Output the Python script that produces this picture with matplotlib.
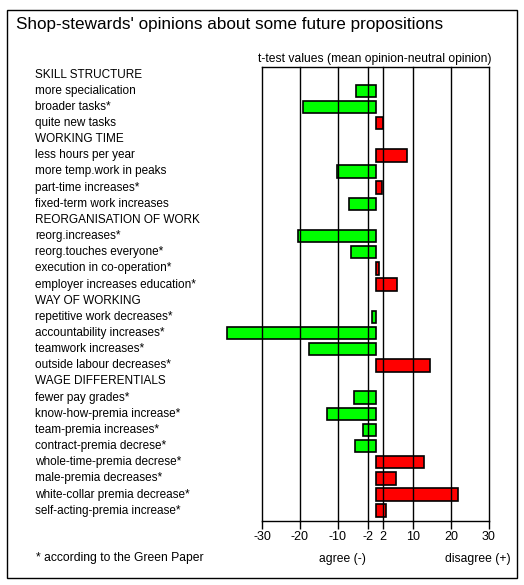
import matplotlib
matplotlib.use("Agg")
import matplotlib.pyplot as plt
import matplotlib.transforms as mtransforms
from matplotlib.patches import Rectangle

# rows from top to bottom; None marks a section heading (no bar)
labels = [
    "SKILL STRUCTURE",
    "more specialication",
    "broader tasks*",
    "quite new tasks",
    "WORKING TIME",
    "less hours per year",
    "more temp.work in peaks",
    "part-time increases*",
    "fixed-term work increases",
    "REORGANISATION OF WORK",
    "reorg.increases*",
    "reorg.touches everyone*",
    "execution in co-operation*",
    "employer increases education*",
    "WAY OF WORKING",
    "repetitive work decreases*",
    "accountability increases*",
    "teamwork increases*",
    "outside labour decreases*",
    "WAGE DIFFERENTIALS",
    "fewer pay grades*",
    "know-how-premia increase*",
    "team-premia increases*",
    "contract-premia decrese*",
    "whole-time-premia decrese*",
    "male-premia decreases*",
    "white-collar premia decrease*",
    "self-acting-premia increase*",
]
t_values = [
    None, -5.1, -19.2, 2.0,
    None, 8.4, -10.1, 1.8, -7.0,
    None, -20.4, -6.5, 0.8, 5.8,
    None, -0.9, -39.2, -17.6, 14.5,
    None, -5.7, -12.8, -3.3, -5.4, 12.9, 5.3, 21.9, 2.9,
]
tick_values = [-30, -20, -10, -2, 2, 10, 20, 30]
tick_labels = ["-30", "-20", "-10", "-2", "2", "10", "20", "30"]

FONT = "Liberation Sans"

fig = plt.figure(figsize=(5.24, 5.85), dpi=100)
fig.patches.append(Rectangle((7 / 524, 1 - 578 / 585), 510 / 524, 568 / 585,
                             transform=fig.transFigure, fill=False,
                             edgecolor="black", linewidth=1))

ax = fig.add_axes([262 / 524, 1 - 521 / 585, 227 / 524, 453.7 / 585])

for i, v in enumerate(t_values):
    if v is None:
        continue
    ax.barh(i, v, height=0.77, color="#00ff00" if v < 0 else "#ff0000",
            edgecolor="black", linewidth=1.2, zorder=2, clip_on=False)

ax.set_xlim(-30, 30)
ax.set_ylim(len(labels) - 0.36, -0.45)
ax.set_xticks(tick_values)
ax.set_xticklabels(tick_labels, fontfamily=FONT, fontsize=9)
ax.set_yticks([])
for x in tick_values:
    ax.axvline(x, color="black", linewidth=1, zorder=3, clip_on=False)
ax.tick_params(axis="x", direction="out", length=6, width=1, pad=1)
for side in ["left", "right"]:
    ax.spines[side].set_visible(False)
ax.spines["top"].set_linewidth(1)
ax.spines["bottom"].set_linewidth(1)

trans = mtransforms.blended_transform_factory(fig.transFigure, ax.transData)
for i, lab in enumerate(labels):
    ax.text(35 / 524, i, lab, transform=trans, ha="left", va="center",
            fontfamily=FONT, fontsize=8.5)

fig.text(16 / 524, 1 - 25 / 585, "Shop-stewards' opinions about some future propositions",
         ha="left", va="center", fontfamily=FONT, fontsize=12.3)
fig.text(375 / 524, 1 - 59 / 585, "t-test values (mean opinion-neutral opinion)",
         ha="center", va="center", fontfamily=FONT, fontsize=8.7)
fig.text(36 / 524, 1 - 558 / 585, "* according to the Green Paper",
         ha="left", va="center", fontfamily=FONT, fontsize=8.7)
fig.text(342 / 524, 1 - 559 / 585, "agree (-)",
         ha="center", va="center", fontfamily=FONT, fontsize=8.7)
fig.text(478 / 524, 1 - 559 / 585, "disagree (+)",
         ha="center", va="center", fontfamily=FONT, fontsize=8.7)

fig.savefig("out.png", dpi=100)
